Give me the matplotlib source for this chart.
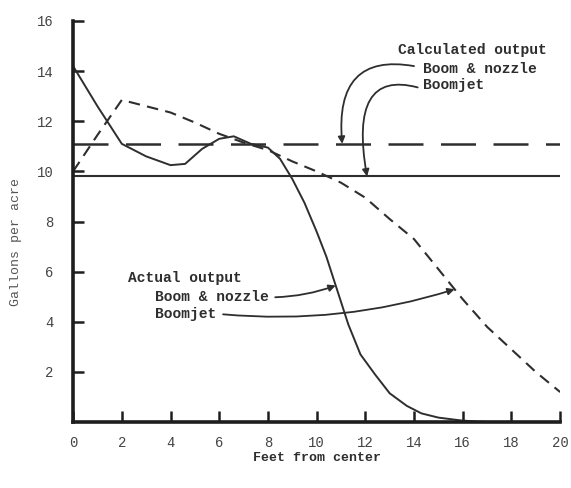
import numpy as np
import matplotlib
matplotlib.use("Agg")
import matplotlib.pyplot as plt

# ---- data ----
feet = [0, 1, 2, 3, 4, 4.6, 5.3, 6.0, 6.6, 7.3, 8.0, 8.5, 9.0, 9.5, 10.0, 10.4, 10.8, 11.3, 11.8, 12.4, 13.0, 13.7, 14.3, 15.0, 15.9, 16.6, 17.2]
boom_nozzle_actual = [14.2, 12.6, 11.1, 10.6, 10.25, 10.3, 10.9, 11.3, 11.4, 11.1, 10.95, 10.5, 9.7, 8.75, 7.6, 6.6, 5.4, 3.9, 2.7, 1.9, 1.15, 0.65, 0.35, 0.18, 0.07, 0.02, 0.0]

feet_jet = [0, 1, 2, 3, 4, 5, 6, 7, 8, 9, 10, 11, 12, 13, 14, 15, 16, 17, 18, 19, 20]
boomjet_actual = [10.0, 11.45, 12.85, 12.6, 12.35, 11.95, 11.5, 11.15, 10.85, 10.4, 10.0, 9.55, 8.95, 8.1, 7.3, 6.1, 4.9, 3.8, 2.9, 2.0, 1.2]

calc_boom_nozzle = 11.1
calc_boomjet = 9.8

x_ticks = [0, 2, 4, 6, 8, 10, 12, 14, 16, 18, 20]
y_ticks = [2, 4, 6, 8, 10, 12, 14, 16]

ink = "#2e2e2e"
font = ["Liberation Mono", "DejaVu Sans Mono"]

fig = plt.figure(figsize=(5.71, 4.88), dpi=100)
ax = fig.add_axes([0.128, 0.135, 0.853, 0.822])
ax.set_xlim(0, 20)
ax.set_ylim(0, 16)

ax.plot(feet, boom_nozzle_actual, color=ink, lw=1.4, solid_capstyle="round")
ax.plot(feet_jet, boomjet_actual, color=ink, lw=1.5, linestyle=(0, (5.5, 3.5)))
ax.axhline(calc_boom_nozzle, color=ink, lw=1.8, linestyle=(0, (14, 7)))
ax.axhline(calc_boomjet, color=ink, lw=1.5)

for s in ["top", "right"]:
    ax.spines[s].set_visible(False)
ax.spines["left"].set_linewidth(2.6)
ax.spines["bottom"].set_linewidth(2.6)
ax.spines["left"].set_color("#1e1e1e")
ax.spines["bottom"].set_color("#1e1e1e")

ax.set_xticks(x_ticks)
ax.set_yticks(y_ticks)
ax.set_xticklabels([str(v) for v in x_ticks])
ax.set_yticklabels([str(v) for v in y_ticks])
ax.tick_params(axis="both", direction="in", length=8, width=1.8, colors="#1e1e1e",
               labelcolor="#444444", labelsize=10)
ax.tick_params(axis="y", pad=14)
ax.tick_params(axis="x", pad=10)
for lab in ax.get_xticklabels() + ax.get_yticklabels():
    lab.set_family(font)

ax.set_ylabel("Gallons per acre", family=font, fontsize=9.5, color="#555555")
ax.yaxis.set_label_coords(-0.105, 0.45)
ax.set_xlabel("Feet from center", family=font, fontsize=9.5, color=ink, fontweight="bold")
ax.xaxis.set_label_coords(0.5, -0.075)

tk = dict(family=font, fontsize=10.5, color=ink, fontweight="bold", va="center", ha="left")
ax.text(13.35, 14.86, "Calculated output", **tk)
ax.text(14.37, 14.1, "Boom & nozzle", **tk)
ax.text(14.37, 13.43, "Boomjet", **tk)
ax.text(2.26, 5.74, "Actual output", **tk)
ax.text(3.37, 4.98, "Boom & nozzle", **tk)
ax.text(3.37, 4.3, "Boomjet", **tk)

ap = dict(arrowstyle="-|>", color=ink, lw=1.3, mutation_scale=10, shrinkA=0, shrinkB=0)
ax.annotate("", xy=(11.05, calc_boom_nozzle), xytext=(14.0, 14.2),
            arrowprops=dict(ap, connectionstyle="angle3,angleA=170,angleB=95"))
ax.annotate("", xy=(12.07, calc_boomjet), xytext=(14.15, 13.35),
            arrowprops=dict(ap, connectionstyle="angle3,angleA=165,angleB=100"))
y_bn = 5.45
x_bn = float(np.interp(-y_bn, -np.array(boom_nozzle_actual[8:]), np.array(feet[8:])))
ax.annotate("", xy=(x_bn, y_bn), xytext=(8.3, 4.98),
            arrowprops=dict(ap, connectionstyle="arc3,rad=0.08"))
y_bj = 5.3
x_bj = float(np.interp(-y_bj, -np.array(boomjet_actual[2:]), np.array(feet_jet[2:])))
ax.annotate("", xy=(x_bj, y_bj), xytext=(6.16, 4.3),
            arrowprops=dict(ap, connectionstyle="arc3,rad=0.1"))

fig.savefig("out.png", dpi=100, facecolor="white")
